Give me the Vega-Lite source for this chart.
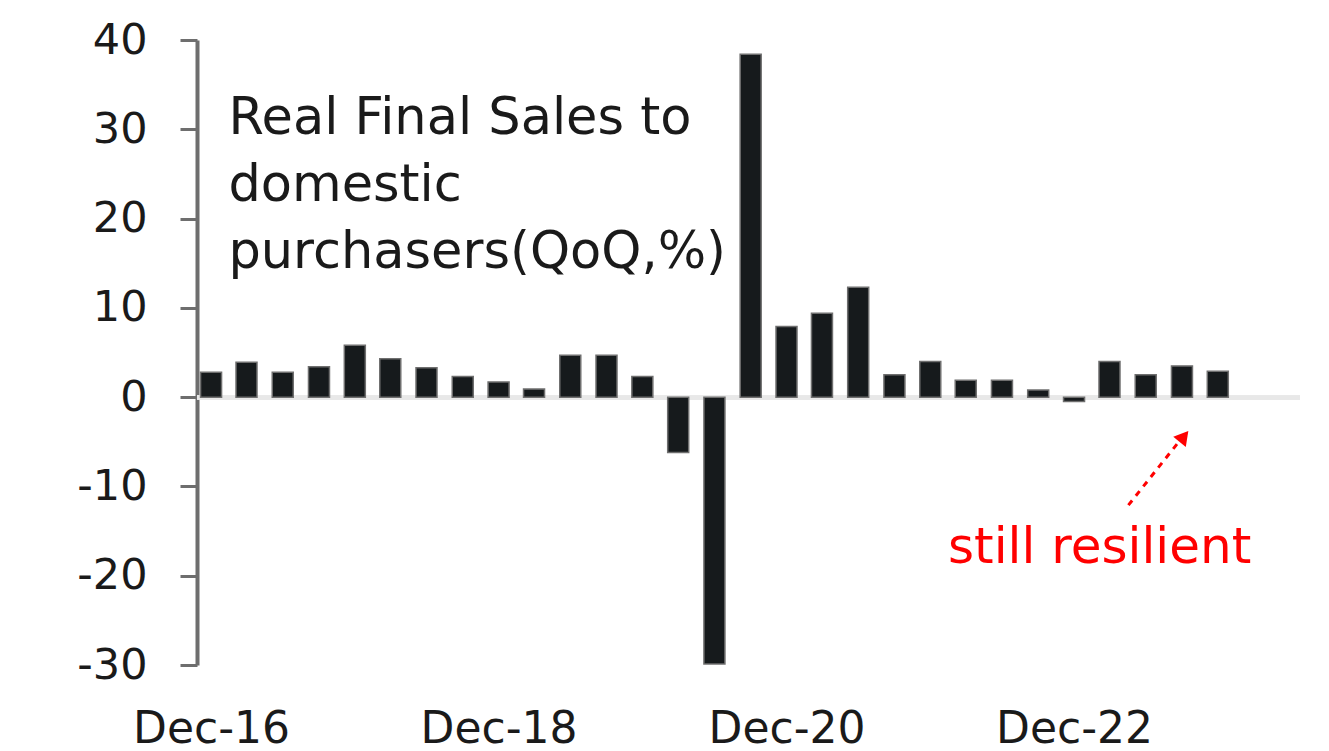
{
  "$schema": "https://vega.github.io/schema/vega-lite/v6.json",
  "width": 1103,
  "height": 625,
  "autosize": {"type": "none"},
  "padding": {"left": 197, "top": 40, "right": 29, "bottom": 86},
  "background": "white",
  "config": {"view": {"stroke": null}, "font": "DejaVu Sans"},
  "datasets": {
    "sales": [
      {"date": "2016-12-15", "value": 2.8},
      {"date": "2017-03-15", "value": 3.9},
      {"date": "2017-06-15", "value": 2.8},
      {"date": "2017-09-15", "value": 3.4},
      {"date": "2017-12-15", "value": 5.8},
      {"date": "2018-03-15", "value": 4.3},
      {"date": "2018-06-15", "value": 3.3},
      {"date": "2018-09-15", "value": 2.3},
      {"date": "2018-12-15", "value": 1.7},
      {"date": "2019-03-15", "value": 0.9},
      {"date": "2019-06-15", "value": 4.7},
      {"date": "2019-09-15", "value": 4.7},
      {"date": "2019-12-15", "value": 2.3},
      {"date": "2020-03-15", "value": -6.2},
      {"date": "2020-06-15", "value": -29.9},
      {"date": "2020-09-15", "value": 38.4},
      {"date": "2020-12-15", "value": 7.9},
      {"date": "2021-03-15", "value": 9.4},
      {"date": "2021-06-15", "value": 12.3},
      {"date": "2021-09-15", "value": 2.5},
      {"date": "2021-12-15", "value": 4.0},
      {"date": "2022-03-15", "value": 1.9},
      {"date": "2022-06-15", "value": 1.9},
      {"date": "2022-09-15", "value": 0.8},
      {"date": "2022-12-15", "value": -0.5},
      {"date": "2023-03-15", "value": 4.0},
      {"date": "2023-06-15", "value": 2.5},
      {"date": "2023-09-15", "value": 3.5},
      {"date": "2023-12-15", "value": 2.9}
    ],
    "title": [
      {"date": "2017-01-28", "value": 34, "label": "Real Final Sales to\ndomestic\npurchasers(QoQ,%)"}
    ],
    "note": [
      {"date": "2023-02-18", "value": -18.6, "label": "still resilient"}
    ],
    "arrow": [
      {"date": "2023-05-02", "value": -12.1},
      {"date": "2023-09-07", "value": -5.0}
    ],
    "head": [
      {"date": "2023-09-20", "value": -4.4}
    ]
  },
  "layer": [
    {
      "data": {"name": "sales"},
      "mark": {"type": "rule", "color": "#e8e8e8", "strokeWidth": 4},
      "encoding": {
        "y": {"datum": 0, "type": "quantitative", "title": null}
      }
    },
    {
      "data": {"name": "sales"},
      "mark": {"type": "bar", "size": 21, "color": "#161a1c", "stroke": "#6f6f6f", "strokeWidth": 1.5},
      "encoding": {
        "x": {
          "field": "date",
          "type": "temporal",
          "title": null,
          "scale": {
            "type": "utc",
            "domain": [
              {"year": 2016, "month": 11, "date": 22, "utc": true},
              {"year": 2024, "month": 6, "date": 28, "utc": true}
            ]
          },
          "axis": {
            "values": [
              {"year": 2016, "month": 12, "date": 15, "utc": true},
              {"year": 2018, "month": 12, "date": 15, "utc": true},
              {"year": 2020, "month": 12, "date": 15, "utc": true},
              {"year": 2022, "month": 12, "date": 15, "utc": true}
            ],
            "labelExpr": "utcFormat(datum.value, '%b-%y')",
            "domain": false,
            "ticks": false,
            "grid": false,
            "labelFontSize": 44,
            "labelColor": "#1a1a1a",
            "labelPadding": 42,
            "labelFlush": false,
            "labelOverlap": false
          }
        },
        "y": {
          "field": "value",
          "type": "quantitative",
          "title": null,
          "scale": {"domain": [-30, 40], "nice": false, "zero": false},
          "axis": {
            "values": [-30, -20, -10, 0, 10, 20, 30, 40],
            "labelExpr": "datum.value + ''",
            "grid": false,
            "domainColor": "#6e6e6e",
            "domainWidth": 4,
            "tickColor": "#6e6e6e",
            "tickWidth": 3,
            "tickSize": 17,
            "labelFontSize": 43,
            "labelColor": "#1a1a1a",
            "labelPadding": 33
          }
        }
      }
    },
    {
      "data": {"name": "title"},
      "mark": {"type": "text", "align": "left", "baseline": "top", "fontSize": 51, "lineHeight": 67, "lineBreak": "\n", "color": "#1a1a1a"},
      "encoding": {
        "x": {"field": "date", "type": "temporal", "title": null},
        "y": {"field": "value", "type": "quantitative", "title": null},
        "text": {"field": "label"}
      }
    },
    {
      "data": {"name": "arrow"},
      "mark": {"type": "line", "color": "#ff0000", "strokeWidth": 3, "strokeDash": [6, 6]},
      "encoding": {
        "x": {"field": "date", "type": "temporal", "title": null},
        "y": {"field": "value", "type": "quantitative", "title": null}
      }
    },
    {
      "data": {"name": "head"},
      "mark": {"type": "point", "shape": "triangle-up", "filled": true, "color": "#ff0000", "size": 260, "angle": 39, "opacity": 1},
      "encoding": {
        "x": {"field": "date", "type": "temporal", "title": null},
        "y": {"field": "value", "type": "quantitative", "title": null}
      }
    },
    {
      "data": {"name": "note"},
      "mark": {"type": "text", "align": "center", "baseline": "alphabetic", "fontSize": 50, "color": "#ff0000"},
      "encoding": {
        "x": {"field": "date", "type": "temporal", "title": null},
        "y": {"field": "value", "type": "quantitative", "title": null},
        "text": {"field": "label"}
      }
    }
  ]
}
